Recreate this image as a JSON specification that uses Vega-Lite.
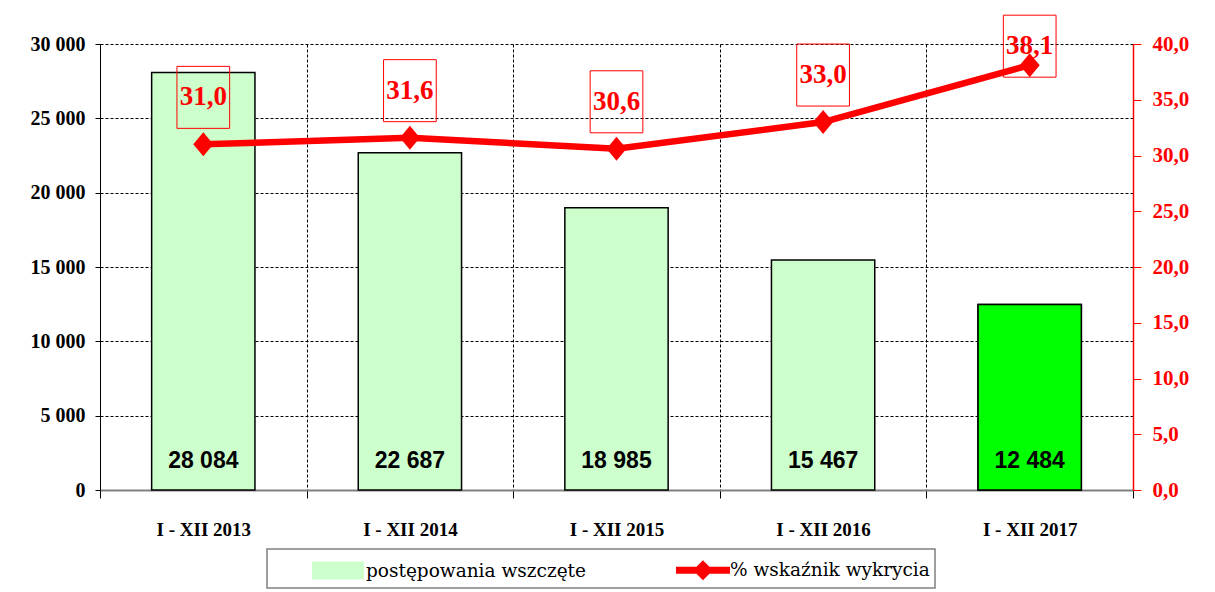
{
  "$schema": "https://vega.github.io/schema/vega-lite/v6.json",
  "width": 1033,
  "height": 446,
  "autosize": {"type": "none"},
  "padding": {"left": 100, "top": 44, "right": 82, "bottom": 102},
  "background": "white",
  "config": {
    "locale": {"number": {"decimal": ",", "thousands": " ", "grouping": [3], "currency": ["", ""]}},
    "view": {"stroke": null},
    "legend": {
      "labelFont": "DejaVu Serif", "labelFontSize": 18.5, "labelColor": "black", "labelLimit": 500,
      "symbolSize": 900, "labelOffset": 22, "symbolOffset": 40, "columnPadding": 50, "padding": 5,
      "fillColor": "white", "strokeColor": "#808080", "strokeWidth": 1.5
    }
  },
  "data": {
    "values": [
      {"okres": "I - XII 2013", "liczba": 28084, "pct": 31.0},
      {"okres": "I - XII 2014", "liczba": 22687, "pct": 31.6},
      {"okres": "I - XII 2015", "liczba": 18985, "pct": 30.6},
      {"okres": "I - XII 2016", "liczba": 15467, "pct": 33.0},
      {"okres": "I - XII 2017", "liczba": 12484, "pct": 38.1}
    ]
  },
  "encoding": {
    "x": {
      "field": "okres", "type": "nominal", "sort": null,
      "scale": {"paddingInner": 0, "paddingOuter": 0},
      "axis": {
        "title": null, "tickBand": "extent", "grid": true, "gridColor": "black", "gridDash": [3, 2], "gridWidth": 1,
        "domainColor": "#808080", "domainWidth": 2, "tickColor": "black", "tickSize": 8,
        "labelFont": "Liberation Serif", "labelFontWeight": "bold", "labelFontSize": 19, "labelColor": "black",
        "labelPadding": 22, "labelAngle": 0
      }
    }
  },
  "layer": [
    {
      "layer": [
        {
          "mark": {"type": "bar", "width": {"band": 0.5}, "stroke": "black", "strokeWidth": 1.5, "opacity": 1},
          "encoding": {
            "y": {
              "field": "liczba", "type": "quantitative", "scale": {"domain": [0, 30000]},
              "axis": {
                "title": null, "values": [0, 5000, 10000, 15000, 20000, 25000, 30000], "format": ",.0f",
                "labelFont": "Liberation Serif", "labelFontWeight": "bold", "labelFontSize": 20, "labelColor": "black",
                "labelPadding": 10, "tickSize": 5, "tickColor": "black", "domainColor": "black", "domainWidth": 1,
                "grid": true, "gridColor": "black", "gridDash": [3, 2], "gridWidth": 1
              }
            },
            "color": {
              "datum": "postępowania wszczęte",
              "scale": {"domain": ["postępowania wszczęte", "% wskaźnik wykrycia"], "range": ["#CCFFCC", "#FF0000"]},
              "legend": {
                "title": null, "orient": "none", "legendX": 167, "legendY": 505, "direction": "horizontal",
                "symbolType": "M-1,-0.53H2.33V0.53H-1Z", "symbolStrokeColor": "black", "symbolStrokeWidth": 2,
                "encode": {
                  "symbols": {
                    "enter": {
                      "stroke": {"signal": "datum.value === '% wskaźnik wykrycia' ? '#FF0000' : 'black'"}
                    },
                    "update": {
                      "shape": {"signal": "datum.value === '% wskaźnik wykrycia' ? 'M-1,-0.17H2.47V0.17H-1Z M0.16,0L0.73,-0.57L1.3,0L0.73,0.57Z' : 'M-1,-0.53H2.33V0.53H-1Z'"},
                      "fill": {"signal": "datum.value === '% wskaźnik wykrycia' ? '#FF0000' : '#CCFFCC'"},
                      "stroke": {"signal": "datum.value === '% wskaźnik wykrycia' ? '#FF0000' : 'black'"},
                      "strokeWidth": {"value": 2},
                      "opacity": {"value": 1},
                      "fillOpacity": {"value": 1}
                    }
                  }
                }
              }
            }
          }
        },
        {
          "transform": [{"filter": "datum.okres === 'I - XII 2017'"}],
          "mark": {"type": "bar", "width": {"band": 0.5}, "fill": "#00FF00", "stroke": "black", "strokeWidth": 1.5, "opacity": 1},
          "encoding": {"y": {"field": "liczba", "type": "quantitative"}}
        },
        {
          "mark": {"type": "text", "font": "Liberation Sans", "fontWeight": "bold", "fontSize": 23, "dy": -29, "baseline": "middle", "color": "black"},
          "encoding": {
            "y": {"datum": 0, "type": "quantitative"},
            "text": {"field": "liczba", "type": "quantitative", "format": ",.0f"}
          }
        }
      ]
    },
    {
      "layer": [
        {
          "mark": {"type": "line", "strokeWidth": 6.5},
          "encoding": {
            "y": {
              "field": "pct", "type": "quantitative", "scale": {"domain": [0, 40]},
              "axis": {
                "orient": "right", "title": null, "values": [0, 5, 10, 15, 20, 25, 30, 35, 40], "format": ".1f",
                "labelFont": "Liberation Serif", "labelFontWeight": "bold", "labelFontSize": 21, "labelColor": "#FF0000",
                "labelPadding": 11, "tickSize": 8, "tickColor": "#FF0000", "domainColor": "#FF0000", "domainWidth": 1.5,
                "grid": false
              }
            },
            "color": {
              "datum": "% wskaźnik wykrycia",
              "legend": {
                "title": null, "orient": "none", "legendX": 167, "legendY": 505, "direction": "horizontal",
                "symbolType": "M-1,-0.53H2.33V0.53H-1Z", "symbolStrokeColor": "black", "symbolStrokeWidth": 2,
                "encode": {
                  "symbols": {
                    "enter": {
                      "stroke": {"signal": "datum.value === '% wskaźnik wykrycia' ? '#FF0000' : 'black'"}
                    },
                    "update": {
                      "shape": {"signal": "datum.value === '% wskaźnik wykrycia' ? 'M-1,-0.17H2.47V0.17H-1Z M0.16,0L0.73,-0.57L1.3,0L0.73,0.57Z' : 'M-1,-0.53H2.33V0.53H-1Z'"},
                      "fill": {"signal": "datum.value === '% wskaźnik wykrycia' ? '#FF0000' : '#CCFFCC'"},
                      "stroke": {"signal": "datum.value === '% wskaźnik wykrycia' ? '#FF0000' : 'black'"},
                      "strokeWidth": {"value": 2},
                      "opacity": {"value": 1},
                      "fillOpacity": {"value": 1}
                    }
                  }
                }
              }
            }
          }
        },
        {
          "mark": {"type": "point", "shape": "M-1,0L0,-1.2L1,0L0,1.2Z", "size": 400, "filled": true, "color": "#FF0000", "opacity": 1},
          "encoding": {"y": {"field": "pct", "type": "quantitative"}}
        },
        {
          "transform": [{"filter": "datum.okres !== 'I - XII 2017'"}],
          "layer": [
            {
              "mark": {"type": "point", "shape": "M-0.85,-1H0.85V1H-0.85Z", "size": 3844, "filled": false, "stroke": "#FF0000", "strokeWidth": 1, "opacity": 1, "yOffset": -47},
              "encoding": {"y": {"field": "pct", "type": "quantitative"}}
            },
            {
              "mark": {"type": "text", "font": "Liberation Serif", "fontWeight": "bold", "fontSize": 27, "color": "#FF0000", "baseline": "middle", "yOffset": -47},
              "encoding": {
                "y": {"field": "pct", "type": "quantitative"},
                "text": {"field": "pct", "type": "quantitative", "format": ".1f"}
              }
            }
          ]
        },
        {
          "transform": [{"filter": "datum.okres === 'I - XII 2017'"}],
          "layer": [
            {
              "mark": {"type": "point", "shape": "M-0.85,-1H0.85V1H-0.85Z", "size": 3844, "filled": false, "stroke": "#FF0000", "strokeWidth": 1, "opacity": 1, "yOffset": -19},
              "encoding": {"y": {"field": "pct", "type": "quantitative"}}
            },
            {
              "mark": {"type": "text", "font": "Liberation Serif", "fontWeight": "bold", "fontSize": 27, "color": "#FF0000", "baseline": "middle", "yOffset": -19},
              "encoding": {
                "y": {"field": "pct", "type": "quantitative"},
                "text": {"field": "pct", "type": "quantitative", "format": ".1f"}
              }
            }
          ]
        }
      ]
    }
  ],
  "resolve": {"scale": {"y": "independent"}}
}
